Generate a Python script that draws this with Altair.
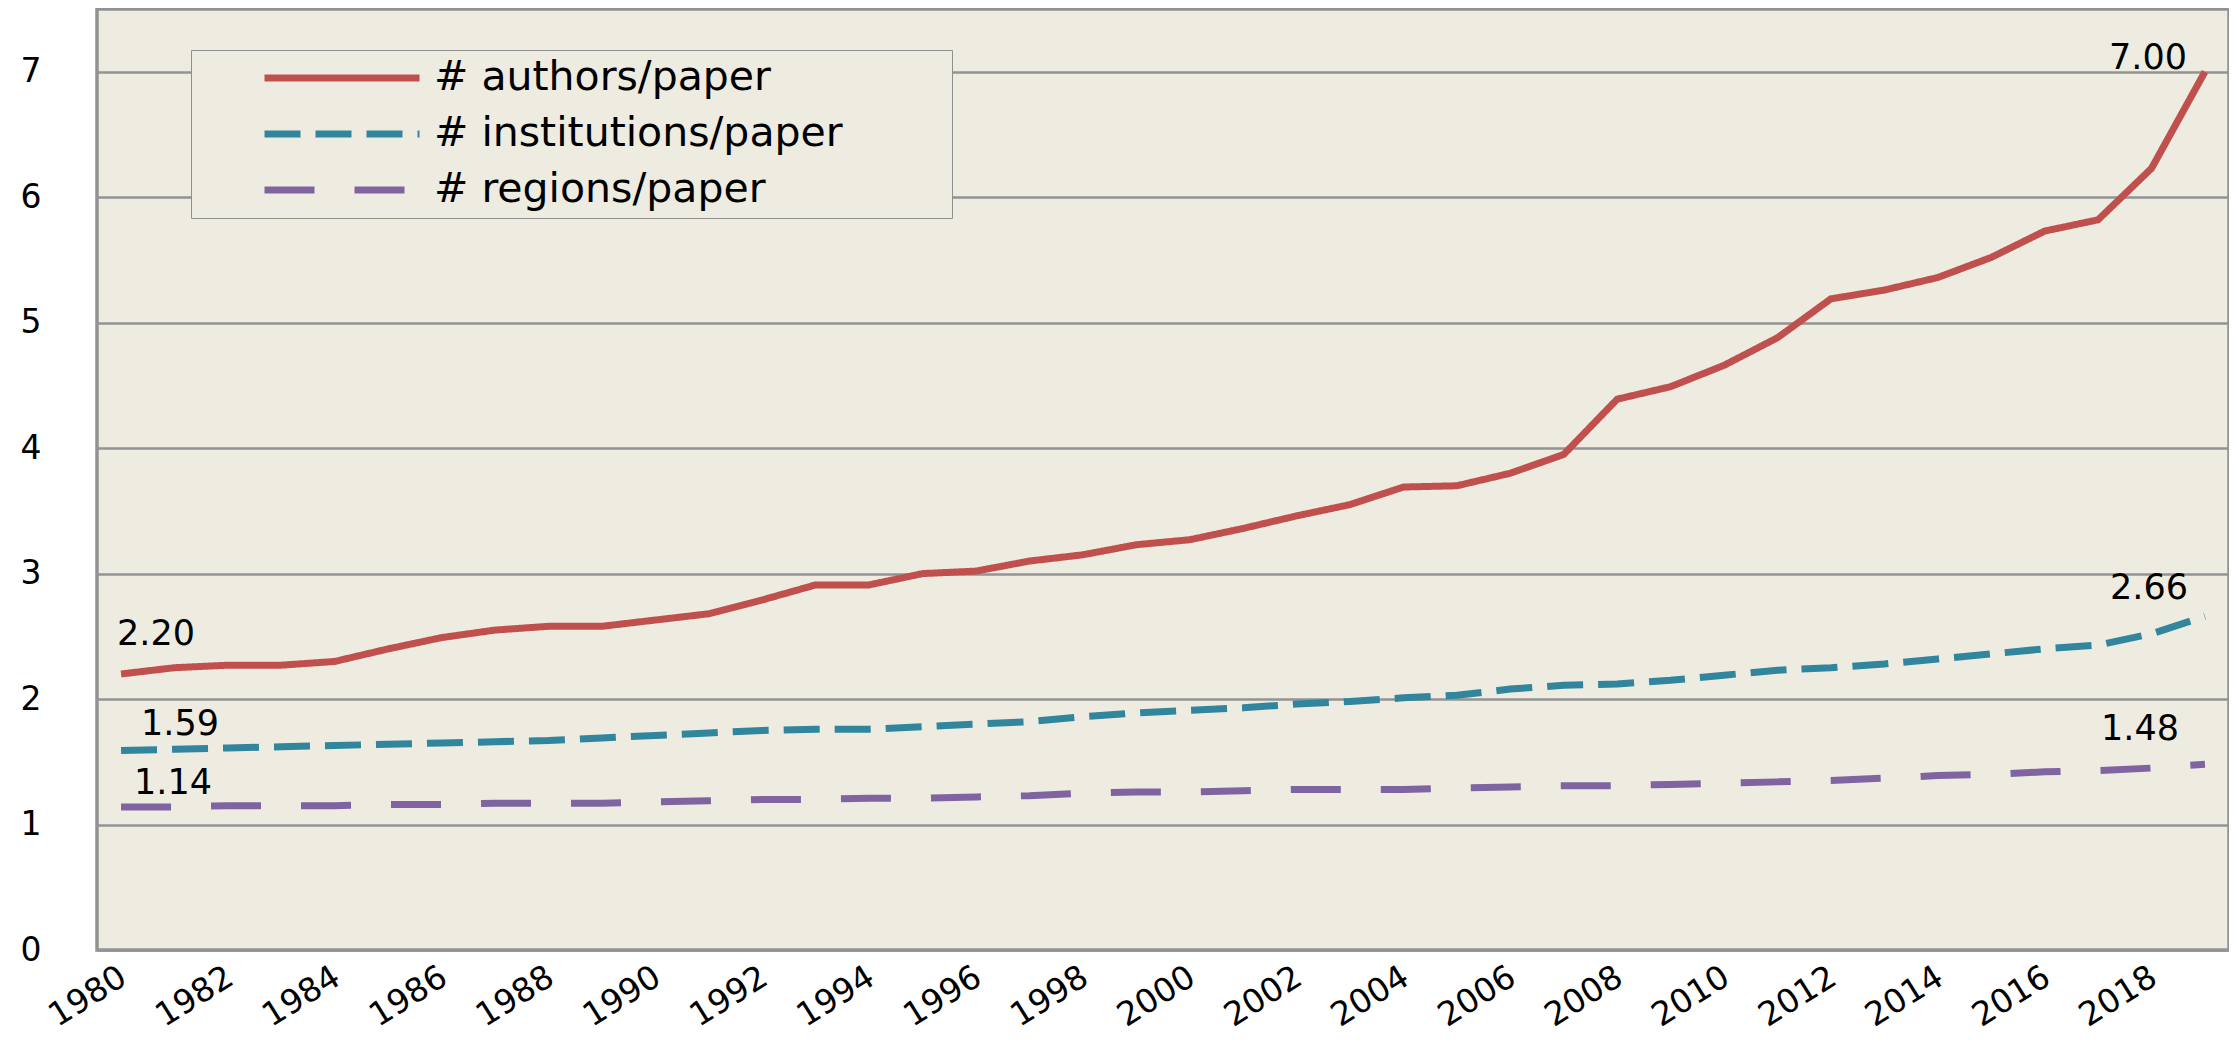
import altair as alt
import pandas as pd

# ---- data ----
years = list(range(1980, 2020))

authors = [2.20, 2.25, 2.27, 2.27, 2.30, 2.40, 2.49, 2.55, 2.58, 2.58,
           2.63, 2.68, 2.79, 2.91, 2.91, 3.00, 3.02, 3.10, 3.15, 3.23,
           3.27, 3.36, 3.46, 3.55, 3.69, 3.70, 3.80, 3.95, 4.39, 4.49,
           4.66, 4.88, 5.19, 5.26, 5.36, 5.52, 5.73, 5.82, 6.23, 7.00]

institutions = [1.59, 1.60, 1.61, 1.62, 1.63, 1.64, 1.65, 1.66, 1.67, 1.69,
                1.71, 1.73, 1.75, 1.76, 1.76, 1.78, 1.80, 1.82, 1.86, 1.89,
                1.91, 1.93, 1.96, 1.98, 2.01, 2.03, 2.08, 2.11, 2.12, 2.15,
                2.19, 2.23, 2.25, 2.28, 2.32, 2.36, 2.40, 2.43, 2.52, 2.66]

regions = [1.14, 1.14, 1.15, 1.15, 1.15, 1.16, 1.16, 1.17, 1.17, 1.17,
           1.18, 1.19, 1.20, 1.20, 1.21, 1.21, 1.22, 1.23, 1.25, 1.26,
           1.26, 1.27, 1.28, 1.28, 1.28, 1.29, 1.30, 1.31, 1.31, 1.32,
           1.33, 1.34, 1.35, 1.37, 1.39, 1.40, 1.42, 1.43, 1.45, 1.48]

series_names = ["# authors/paper", "# institutions/paper", "# regions/paper"]
series_colors = ["#C0504D", "#31859C", "#8064A2"]
series_dashes = [[1, 0], [36, 15], [50, 40]]

y_ticks = [0, 1, 2, 3, 4, 5, 6, 7]
x_ticks = list(range(1980, 2019, 2))

# ---- long table ----
rows = []
for name, vals in zip(series_names, [authors, institutions, regions]):
    for yr, v in zip(years, vals):
        rows.append({"year": yr, "value": v, "series": name})
df = pd.DataFrame(rows)

FONT = "DejaVu Sans"

x_enc = alt.X("year:Q",
              scale=alt.Scale(domain=[1979.55, 2019.45], nice=False, zero=False),
              axis=alt.Axis(values=x_ticks, format="d", title=None, grid=False,
                            domain=False, ticks=False, labelAngle=-32,
                            labelAlign="right", labelBaseline="middle",
                            labelPadding=24, labelOffset=2,
                            labelFont=FONT, labelFontSize=33, labelColor="#000000"))
y_enc = alt.Y("value:Q",
              scale=alt.Scale(domain=[0, 7.5], nice=False),
              axis=alt.Axis(values=y_ticks, format="d", title=None, grid=True,
                            domain=False, ticks=False, labelPadding=56,
                            labelFont=FONT, labelFontSize=33,
                            labelColor="#000000", gridColor="#939393",
                            gridWidth=2.5, gridOpacity=1))

legend_def = alt.Legend(title="\u00a0", titleOrient="right", titlePadding=101,
                        titleFontSize=10)

lines = alt.Chart(df).mark_line(strokeWidth=7, strokeCap="butt").encode(
    x=x_enc,
    y=y_enc,
    color=alt.Color("series:N",
                    scale=alt.Scale(domain=series_names, range=series_colors),
                    legend=legend_def),
    strokeDash=alt.StrokeDash("series:N",
                              scale=alt.Scale(domain=series_names, range=series_dashes),
                              legend=legend_def),
)

# end labels: (series, year, align, dx, dy)
label_specs = [
    (series_names[0], 1980, "left", -4, -29),
    (series_names[1], 1980, "left", 20, -16),
    (series_names[2], 1980, "left", 13, -13),
    (series_names[0], 2019, "right", -18, -3),
    (series_names[1], 2019, "right", -17, -17),
    (series_names[2], 2019, "right", -26, -24),
]
label_layers = []
for name, yr, align, dx, dy in label_specs:
    label_layers.append(
        alt.Chart(df).transform_filter(
            (alt.datum.series == name) & (alt.datum.year == yr)
        ).mark_text(align=align, baseline="alphabetic", dx=dx, dy=dy,
                    font=FONT, fontSize=35, color="#000000").encode(
            x="year:Q", y="value:Q", text=alt.Text("value:Q", format=".2f")
        )
    )

chart = alt.layer(lines, *label_layers).properties(
    width=2132, height=941,
    autosize=alt.AutoSizeParams(type="none"),
    padding={"left": 89, "top": 1, "right": 0, "bottom": 88},
    background="#FFFFFF",
).configure_view(
    fill="#EEECE1", stroke="#929292", strokeWidth=3.5
).configure_legend(
    orient="none", legendX=94, legendY=41,
    symbolType="stroke", symbolSize=24025, symbolStrokeWidth=7,
    symbolOffset=62, labelOffset=11, clipHeight=40, rowPadding=15,
    padding=8, labelFont=FONT, labelFontSize=41, labelLimit=1000,
    labelColor="#000000", strokeColor="#8F8F8F", fillColor="#EEECE1",
)

chart.save("out.html", embed_options={"renderer": "svg", "actions": False})
